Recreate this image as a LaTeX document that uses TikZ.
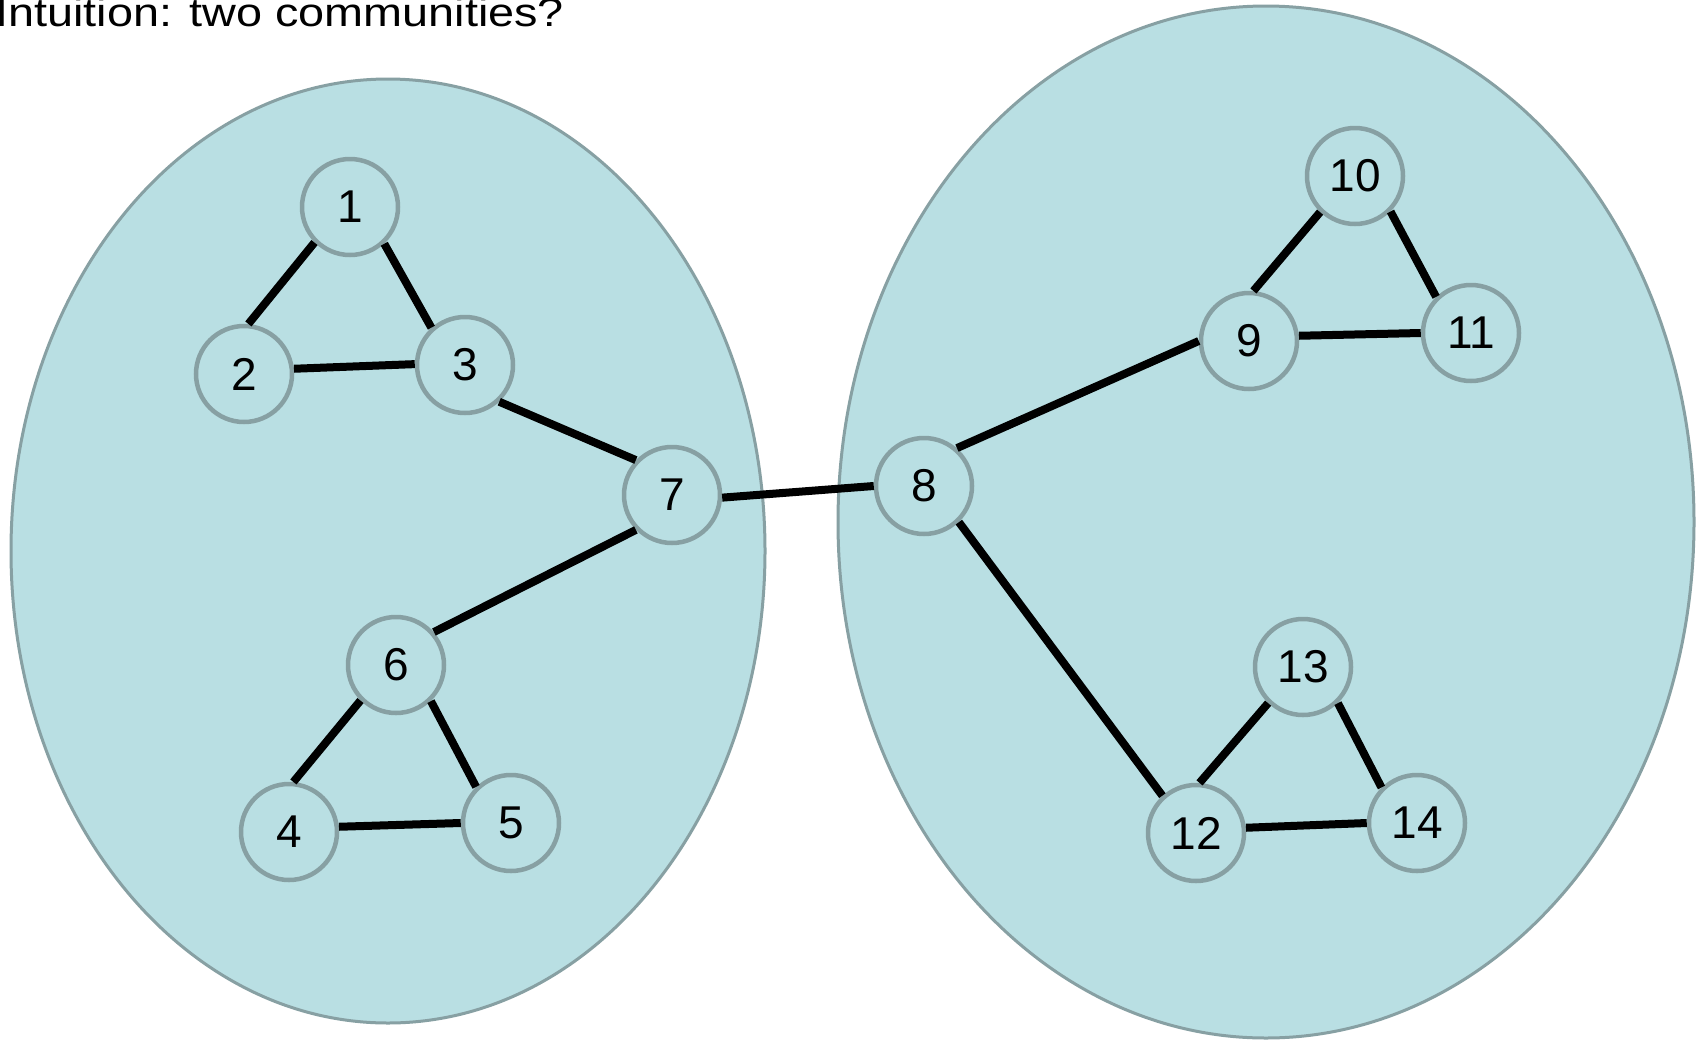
\documentclass[tikz,border=0pt]{standalone}
\usepackage{fontspec}
\setmainfont{Liberation Sans}
\definecolor{commfill}{HTML}{B9DFE3}
\definecolor{commdraw}{HTML}{87A0A3}
\begin{document}
\begin{tikzpicture}[x=1pt,y=-1pt,
  vtx/.style={circle,draw=commdraw,fill=commfill,line width=4.5pt,minimum size=96pt,inner sep=0pt,font=\fontsize{46}{50}\selectfont},
  comm/.style={draw=commdraw,fill=commfill,line width=3pt},
  link/.style={line width=8pt,black}]
\useasboundingbox (0,0) rectangle (1705,1039);
\clip (0,0) rectangle (1705,1039);
\fill[white] (0,0) rectangle (1705,1039);
\node[anchor=base west,inner sep=0pt,font=\fontsize{40}{44}\selectfont] (title) at (-5,26) {\scalebox{1.17}[1]{Intuition: two communities?}};
\draw[comm] (388,551) ellipse [x radius=377,y radius=472];
\draw[comm] (1266,522) ellipse [x radius=428,y radius=516];
\node[vtx] (n1) at (350,207) {1};
\node[vtx] (n2) at (244,374) {2};
\node[vtx] (n3) at (465,365) {3};
\node[vtx] (n7) at (672,495) {7};
\node[vtx] (n6) at (396,665) {6};
\node[vtx] (n4) at (289,832) {4};
\node[vtx] (n5) at (511,823) {5};
\node[vtx] (n8) at (924,486) {8};
\node[vtx] (n9) at (1249,341) {9};
\node[vtx] (n10) at (1355,176) {10};
\node[vtx] (n11) at (1471,333) {11};
\node[vtx] (n13) at (1303,667) {13};
\node[vtx] (n12) at (1196,833) {12};
\node[vtx] (n14) at (1417,823) {14};
\draw[link] (n1.225) -- (n2.85);
\draw[link] (n1.313) -- (n3.132);
\draw[link] (n2.6) -- (n3.179);
\draw[link] (n3.313) -- (n7.136);
\draw[link] (n7.224) -- (n6.41);
\draw[link] (n6.225) -- (n4.85);
\draw[link] (n6.314) -- (n5.134);
\draw[link] (n4.6) -- (n5.180);
\draw[link] (n7.357) -- (n8.180);
\draw[link] (n8.49) -- (n9.180);
\draw[link] (n8.314) -- (n12.132);
\draw[link] (n9.85) -- (n10.226);
\draw[link] (n10.315) -- (n11.134);
\draw[link] (n9.6) -- (n11.180);
\draw[link] (n13.226) -- (n12.86);
\draw[link] (n13.314) -- (n14.135);
\draw[link] (n12.6) -- (n14.180);
\end{tikzpicture}
\end{document}
